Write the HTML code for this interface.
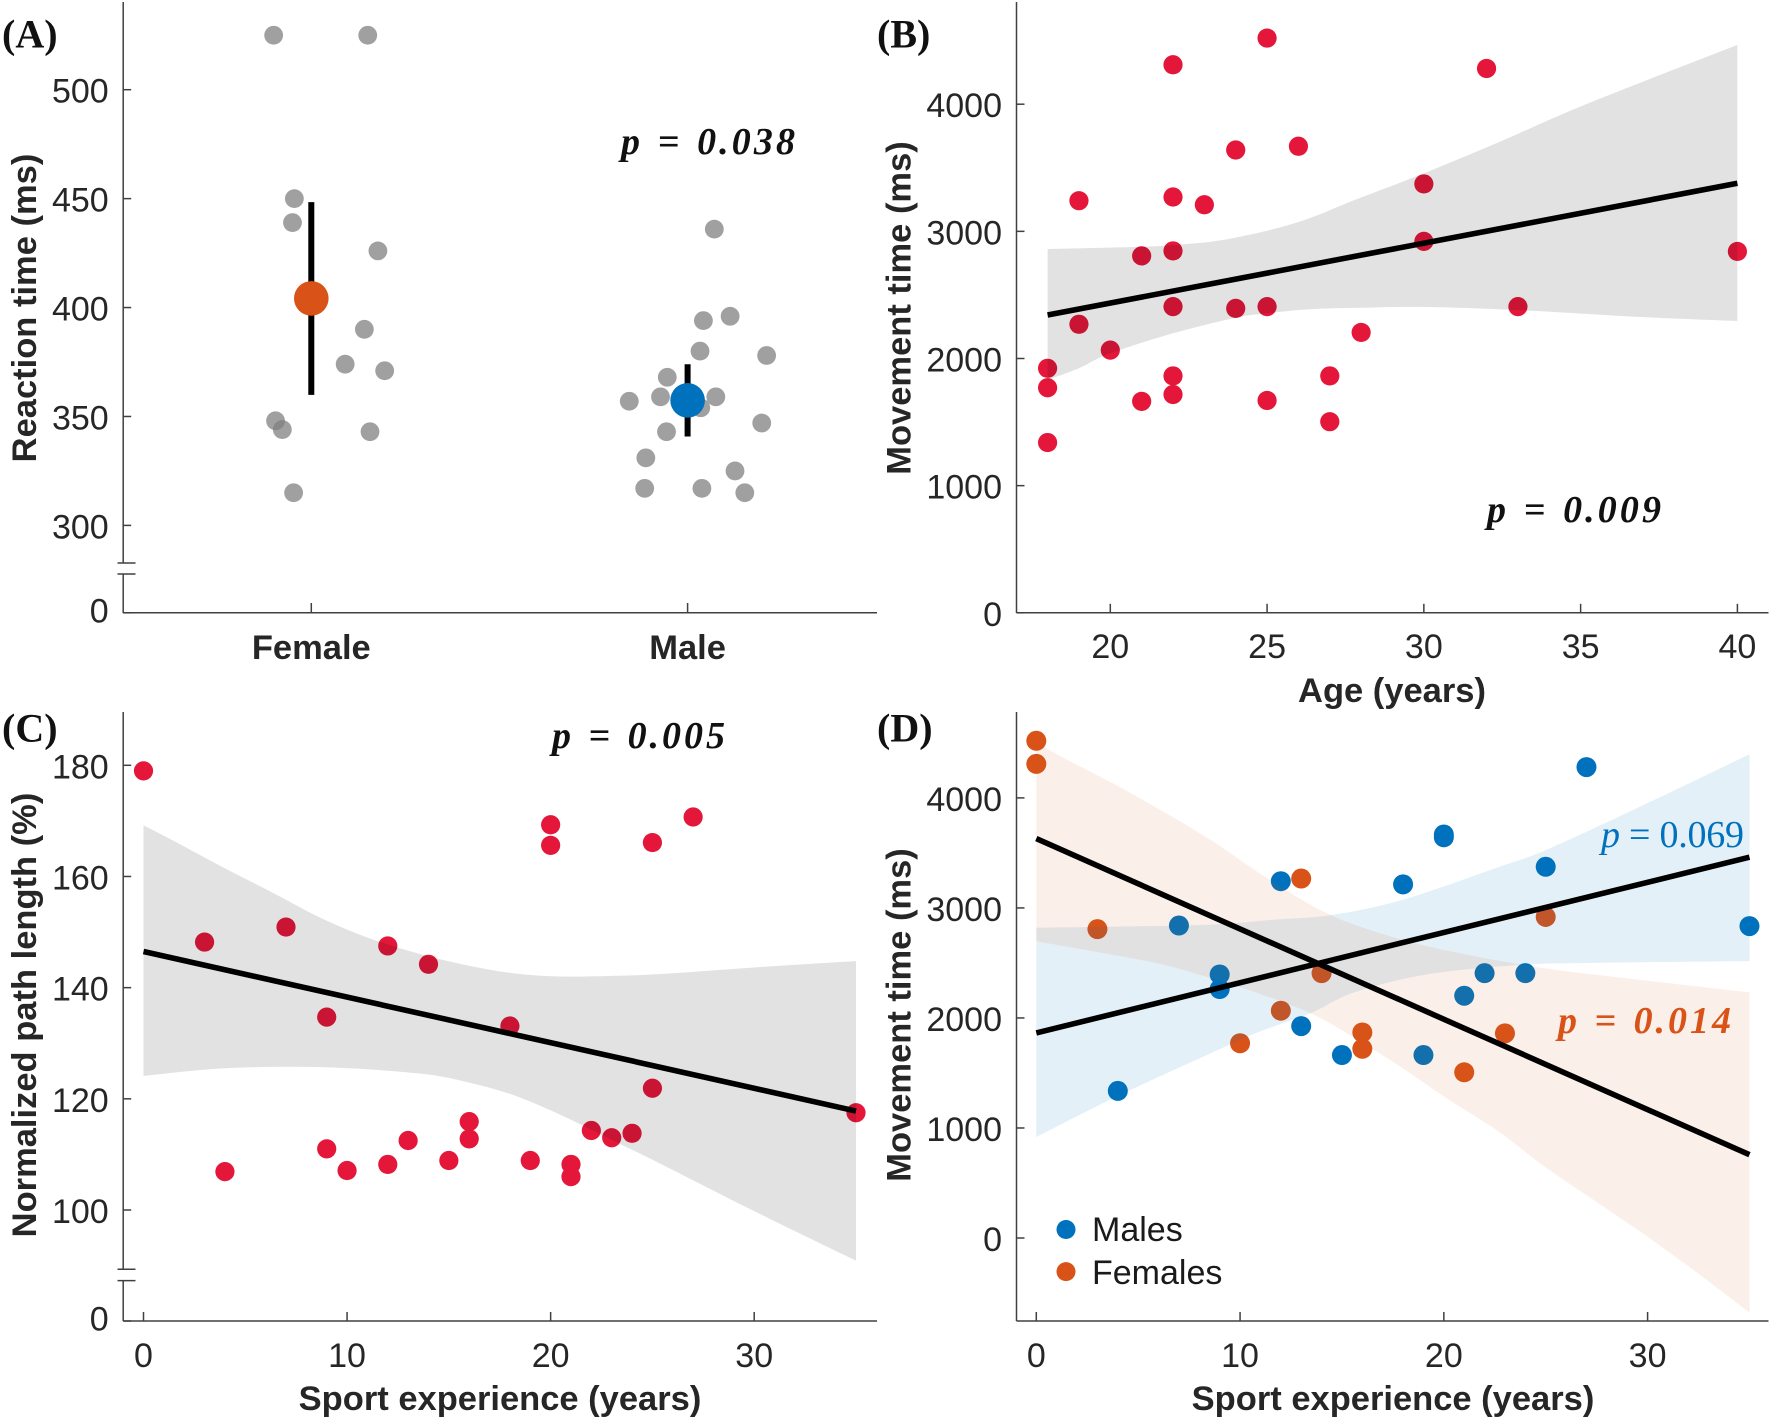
<!DOCTYPE html>
<html lang="en">
<head>
<meta charset="utf-8">
<title>Reaction and movement time panels</title>
<style>
html,body{margin:0;padding:0;background:#fff;}
svg{display:block;}
text{font-family:"Liberation Sans",sans-serif;fill:#262626;}
.tick{font-size:34px;}
.axis-title{font-size:34.5px;font-weight:700;}
.panel{font-family:"Liberation Serif",serif;font-size:40px;font-weight:700;fill:#111;}
.pv{font-family:"Liberation Serif",serif;font-size:38px;font-style:italic;font-weight:700;word-spacing:2px;fill:#111;}
.ax{stroke:#404040;stroke-width:1.5;fill:none;}
</style>
</head>
<body>
<svg id="fig" xmlns="http://www.w3.org/2000/svg" width="1772" height="1419" viewBox="0 0 1772 1419">
  <rect x="0" y="0" width="1772" height="1419" fill="#fff"/>

  <g id="panelA">
    <g id="aMarks"></g>
    <g id="aAxis">
      <line class="ax" x1="123.2" y1="2" x2="123.2" y2="563"/>
      <line class="ax" x1="123.2" y1="574" x2="123.2" y2="613"/>
      <line class="ax" x1="117.5" y1="563" x2="135.5" y2="563"/>
      <line class="ax" x1="117.5" y1="574" x2="135.5" y2="574"/>
      <line class="ax" x1="123.2" y1="612.8" x2="877" y2="612.8"/>
    </g>
    <text class="panel" x="2" y="47.5">(A)</text>
    <text class="axis-title" text-anchor="middle" transform="translate(36,308) rotate(-90)">Reaction time (ms)</text>
    <text class="pv" x="621" y="154" textLength="174">p = 0.038</text>
  </g>

  <g id="panelB">
    <g id="bMarks"></g>
    <g id="bAxis">
      <line class="ax" x1="1016.5" y1="2" x2="1016.5" y2="613"/>
      <line class="ax" x1="1016.5" y1="612.8" x2="1768.5" y2="612.8"/>
    </g>
    <text class="panel" x="877" y="47.5">(B)</text>
    <text class="axis-title" text-anchor="middle" transform="translate(910.5,308) rotate(-90)">Movement time (ms)</text>
    <text class="axis-title" text-anchor="middle" x="1392" y="702">Age (years)</text>
    <text class="pv" x="1487" y="522" textLength="174">p = 0.009</text>
  </g>

  <g id="panelC">
    <g id="cMarks"></g>
    <g id="cAxis">
      <line class="ax" x1="123.2" y1="712" x2="123.2" y2="1269.3"/>
      <line class="ax" x1="123.2" y1="1280.6" x2="123.2" y2="1321"/>
      <line class="ax" x1="117.5" y1="1269.3" x2="135.5" y2="1269.3"/>
      <line class="ax" x1="117.5" y1="1280.6" x2="135.5" y2="1280.6"/>
      <line class="ax" x1="123.2" y1="1321" x2="877" y2="1321"/>
    </g>
    <text class="panel" x="2" y="741.5">(C)</text>
    <text class="axis-title" text-anchor="middle" transform="translate(36,1015) rotate(-90)">Normalized path length (%)</text>
    <text class="axis-title" text-anchor="middle" x="500" y="1410">Sport experience (years)</text>
    <text class="pv" x="552" y="748" textLength="173">p = 0.005</text>
  </g>

  <g id="panelD">
    <g id="dMarks"></g>
    <g id="dAxis">
      <line class="ax" x1="1016.5" y1="712" x2="1016.5" y2="1321"/>
      <line class="ax" x1="1016.5" y1="1321" x2="1768.5" y2="1321"/>
    </g>
    <text class="panel" x="877" y="741.5">(D)</text>
    <text class="axis-title" text-anchor="middle" transform="translate(910.5,1015) rotate(-90)">Movement time (ms)</text>
    <text class="axis-title" text-anchor="middle" x="1393" y="1410">Sport experience (years)</text>
    <text class="pv" x="1601" y="847" textLength="143" style="fill:#0072BD;font-weight:400;font-style:normal;word-spacing:0;"><tspan font-style="italic">p</tspan> = 0.069</text>
    <text class="pv" x="1558" y="1033" textLength="173" style="fill:#D95319;">p = 0.014</text>
    <g>
      <circle cx="1066" cy="1229.5" r="9.5" fill="#0072BD"/>
      <text class="tick" x="1092" y="1241" style="fill:#1a1a1a;">Males</text>
      <circle cx="1066" cy="1271.6" r="9.5" fill="#D95319"/>
      <text class="tick" x="1092" y="1284" style="fill:#1a1a1a;">Females</text>
    </g>
  </g>
</svg>

<script>
// ---------- Panel A data ----------
const aCategories = ['Female', 'Male'];
const aYTicks = [0, 300, 350, 400, 450, 500];
const femaleRT = [525, 525, 450, 439, 426, 390, 374, 371, 348, 344, 343, 315];
const femaleJitter = [-0.10, 0.15, -0.045, -0.05, 0.177, 0.141, 0.09, 0.195, -0.095, -0.077, 0.156, -0.047];
const maleRT = [436, 396, 394, 380, 378, 368, 359, 359, 357, 354, 347, 343, 331, 325, 317, 317, 315];
const maleJitter = [0.071, 0.113, 0.042, 0.033, 0.21, -0.054, -0.072, 0.075, -0.155, 0.035, 0.197, -0.056, -0.111, 0.126, -0.114, 0.038, 0.152];
const aMeans = [404.2, 357.4];
const aErrLow = [359.9, 340.8];
const aErrHigh = [448.4, 374];

// ---------- Panel B data ----------
const bXTicks = [20, 25, 30, 35, 40];
const bYTicks = [0, 1000, 2000, 3000, 4000];
const bAge = [18, 18, 18, 19, 19, 20, 21, 21, 22, 22, 22, 22, 22, 22, 23, 24, 24, 25, 25, 25, 26, 27, 27, 28, 30, 30, 32, 33, 40];
const bMT = [1923, 1770, 1339, 3241, 2269, 2066, 2807, 1663, 4310, 3270, 2846, 2408, 1863, 1717, 3209, 3640, 2394, 4520, 2408, 1670, 3669, 1863, 1503, 2205, 3373, 2921, 4281, 2408, 2842];
const bLineX = [18, 40];
const bLineY = [2342, 3378];
const bUpperX = [18, 21, 22, 23.37, 25, 26.34, 27.8, 30, 32.3, 35.25, 40];
const bUpperY = [2861, 2879, 2893, 2924, 3005, 3102, 3247, 3456, 3692, 4007, 4466];
const bLowerX = [18, 19, 20, 22, 24, 25, 26.34, 28, 30, 33, 36.73, 40];
const bLowerY = [1831, 1923, 2041, 2198, 2321, 2355, 2387, 2399, 2405, 2381, 2329, 2295];

// ---------- Panel C data ----------
const cXTicks = [0, 10, 20, 30];
const cYTicks = [0, 100, 120, 140, 160, 180];
const cExp = [0, 3, 4, 7, 9, 9, 10, 12, 12, 13, 14, 15, 16, 16, 18, 19, 20, 20, 21, 21, 22, 23, 24, 25, 25, 27, 35];
const cPath = [179, 148.2, 106.9, 150.9, 134.7, 111, 107.1, 147.5, 108.2, 112.5, 144.2, 108.9, 115.9, 112.8, 133.1, 108.9, 169.3, 165.6, 108.2, 106, 114.3, 113, 113.8, 166.1, 121.9, 170.7, 117.5];
const cLineX = [0, 35];
const cLineY = [146.5, 117.8];
const cUpperX = [0, 1.69, 4.04, 6.39, 8.74, 11.09, 13.44, 15.79, 18.14, 20.49, 22.84, 25.19, 29.89, 35];
const cUpperY = [169.2, 166, 161.4, 157, 152.5, 148.9, 146.2, 144.1, 142.6, 142, 142.1, 142.4, 143.6, 144.8];
const cLowerX = [0, 4.04, 8.74, 13.44, 15.79, 18.14, 20.49, 22.84, 25.19, 29.89, 35];
const cLowerY = [124.1, 125.5, 125.7, 124.6, 123.1, 120.7, 117.1, 112.9, 108.7, 100, 90.9];

// ---------- Panel D data ----------
const dXTicks = [0, 10, 20, 30];
const dYTicks = [0, 1000, 2000, 3000, 4000];
const dMaleExp = [4, 7, 9, 9, 12, 13, 15, 18, 19, 20, 20, 21, 22, 24, 25, 27, 35];
const dMaleMT = [1337, 2840, 2395, 2263, 3243, 1926, 1663, 3214, 1663, 3642, 3667, 2202, 2407, 2407, 3374, 4280, 2835];
const dFemaleExp = [0, 0, 3, 10, 12, 13, 14, 16, 16, 21, 23, 25];
const dFemaleMT = [4519, 4309, 2807, 1770, 2066, 3267, 2407, 1868, 1720, 1506, 1860, 2918];
const dMaleLineX = [0, 35];
const dMaleLineY = [1864, 3461];
const dFemaleLineX = [0, 35];
const dFemaleLineY = [3630, 757];
const dMaleUpperX = [0, 3.9, 8.6, 11.64, 14.46, 17.98, 22.67, 25, 29.7, 35];
const dMaleUpperY = [2820, 2830, 2848, 2893, 2935, 3074, 3370, 3526, 3926, 4396];
const dMaleLowerX = [0, 3.9, 8.6, 10.94, 13.5, 15.6, 19.15, 23.85, 27.37, 35];
const dMaleLowerY = [917, 1282, 1682, 1874, 2047, 2232, 2395, 2483, 2500, 2517];
const dFemaleUpperX = [0, 1.55, 3.9, 6.24, 8.6, 10.94, 13.29, 14.46, 15.6, 17.98, 20.33, 23.85, 27.37, 35];
const dFemaleUpperY = [4500, 4344, 4118, 3875, 3613, 3317, 3046, 2935, 2848, 2709, 2605, 2483, 2395, 2232];
const dFemaleLowerX = [0, 3.9, 6.24, 8.6, 10.94, 13.52, 15.6, 17.98, 20.33, 22.68, 25.02, 27.37, 29.72, 32.07, 35];
const dFemaleLowerY = [2698, 2569, 2483, 2361, 2222, 2037, 1822, 1543, 1247, 969, 638, 343, 47, -266, -677];

// ---------- Axis functions ----------
function linear(d0, r0, d1, r1) {
  return function (v) { return r0 + (v - d0) * (r1 - r0) / (d1 - d0); };
}
const aX = linear(0, 311.3, 1, 687.6);
const aYRaw = linear(300, 525.4, 500, 89.7);
function aY(v) { return v === 0 ? 612.8 : aYRaw(v); }
const bX = linear(20, 1110.3, 40, 1737.4);
const bY = linear(0, 612.8, 4000, 104.2);
const cX = linear(0, 143.5, 30, 754.2);
const cYRaw = linear(100, 1210, 180, 765.3);
function cY(v) { return v === 0 ? 1321 : cYRaw(v); }
const dX = linear(0, 1036.3, 30, 1647.6);
const dY = linear(0, 1238, 4000, 797.9);

// ---------- Drawing helpers ----------
const NS = 'http://www.w3.org/2000/svg';
function make(tag, parent, attrs) {
  const el = document.createElementNS(NS, tag);
  Object.keys(attrs).forEach(function (k) { el.setAttribute(k, attrs[k]); });
  parent.appendChild(el);
  return el;
}
function drawDots(parent, xs, ys, xf, yf, fill, opacity, r) {
  xs.forEach(function (x, i) {
    const el = make('circle', parent, { cx: xf(x), cy: yf(ys[i]), r: r, fill: fill, 'fill-opacity': opacity });
    
    
  });
}
// Catmull-Rom smoothing through the read-off boundary points
function smoothSegs(p) {
  let s = '';
  for (let i = 0; i < p.length - 1; i++) {
    const p0 = p[Math.max(i - 1, 0)], p1 = p[i], p2 = p[i + 1], p3 = p[Math.min(i + 2, p.length - 1)];
    const c1x = p1[0] + (p2[0] - p0[0]) / 6, c1y = p1[1] + (p2[1] - p0[1]) / 6;
    const c2x = p2[0] - (p3[0] - p1[0]) / 6, c2y = p2[1] - (p3[1] - p1[1]) / 6;
    s += 'C' + c1x.toFixed(1) + ' ' + c1y.toFixed(1) + ' ' + c2x.toFixed(1) + ' ' + c2y.toFixed(1) + ' ' + p2[0].toFixed(1) + ' ' + p2[1].toFixed(1);
  }
  return s;
}
function drawBand(parent, ux, uy, lx, ly, xf, yf, fill, opacity) {
  const up = ux.map(function (x, i) { return [xf(x), yf(uy[i])]; });
  const low = lx.map(function (x, i) { return [xf(x), yf(ly[i])]; }).reverse();
  const d = 'M' + up[0][0].toFixed(1) + ' ' + up[0][1].toFixed(1) + smoothSegs(up) +
    'L' + low[0][0].toFixed(1) + ' ' + low[0][1].toFixed(1) + smoothSegs(low) + 'Z';
  const el = make('path', parent, { d: d, fill: fill, 'fill-opacity': opacity });
  
  
}
function drawLine(parent, xs, ys, xf, yf) {
  const el = make('line', parent, { x1: xf(xs[0]), y1: yf(ys[0]), x2: xf(xs[1]), y2: yf(ys[1]), stroke: '#000', 'stroke-width': 5.6 });
  
  
}
function drawYTicks(parent, ticks, yf, axisX, zeroShift) {
  ticks.forEach(function (t) {
    const y = yf(t);
    const mark = make('line', parent, { x1: axisX, y1: y, x2: axisX + 8, y2: y, class: 'ax' });
    
    
    const ly = y + 13 - (t === 0 ? zeroShift : 0);
    const label = make('text', parent, { x: axisX - 14.5, y: ly, 'text-anchor': 'end', class: 'tick' });
    label.textContent = String(t);
    
    
  });
}
function drawXTicks(parent, ticks, xf, axisY, labelY) {
  ticks.forEach(function (t) {
    const x = xf(t);
    const mark = make('line', parent, { x1: x, y1: axisY, x2: x, y2: axisY - 9, class: 'ax' });
    
    
    const label = make('text', parent, { x: x, y: labelY, 'text-anchor': 'middle', class: 'tick' });
    label.textContent = String(t);
    
    
  });
}

// ---------- Panel A ----------
(function () {
  const g = document.getElementById('aMarks');
  const ax = document.getElementById('aAxis');
  drawDots(g, femaleJitter, femaleRT, function (o) { return aX(0 + o); }, aY, '#808080', 0.75, 9.4);
  drawDots(g, maleJitter, maleRT, function (o) { return aX(1 + o); }, aY, '#808080', 0.75, 9.4);
  const colors = ['#D95319', '#0072BD'];
  aCategories.forEach(function (name, i) {
    const err = make('line', g, { x1: aX(i), y1: aY(aErrHigh[i]), x2: aX(i), y2: aY(aErrLow[i]), stroke: '#000', 'stroke-width': 6 });
    
    
    const mean = make('circle', g, { cx: aX(i), cy: aY(aMeans[i]), r: 17.3, fill: colors[i] });
    
    
    const mark = make('line', ax, { x1: aX(i), y1: 612.8, x2: aX(i), y2: 603, class: 'ax' });
    
    
    const label = make('text', ax, { x: aX(i), y: 659, 'text-anchor': 'middle', class: 'axis-title' });
    label.textContent = name;
    
    
  });
  drawYTicks(ax, aYTicks, aY, 123.2, 3.4);
})();

// ---------- Panel B ----------
(function () {
  const g = document.getElementById('bMarks');
  const ax = document.getElementById('bAxis');
  drawDots(g, bAge, bMT, bX, bY, '#e4173b', 1, 9.6);
  drawBand(g, bUpperX, bUpperY, bLowerX, bLowerY, bX, bY, '#000', 0.115);
  drawLine(g, bLineX, bLineY, bX, bY);
  drawYTicks(ax, bYTicks, bY, 1016.5, 0);
  drawXTicks(ax, bXTicks, bX, 612.8, 658);
})();

// ---------- Panel C ----------
(function () {
  const g = document.getElementById('cMarks');
  const ax = document.getElementById('cAxis');
  drawDots(g, cExp, cPath, cX, cY, '#e4173b', 1, 9.6);
  drawBand(g, cUpperX, cUpperY, cLowerX, cLowerY, cX, cY, '#000', 0.115);
  drawLine(g, cLineX, cLineY, cX, cY);
  drawYTicks(ax, cYTicks, cY, 123.2, 3.4);
  drawXTicks(ax, cXTicks, cX, 1321, 1367);
})();

// ---------- Panel D ----------
(function () {
  const g = document.getElementById('dMarks');
  const ax = document.getElementById('dAxis');
  drawDots(g, dMaleExp, dMaleMT, dX, dY, '#0072BD', 1, 10);
  drawDots(g, dFemaleExp, dFemaleMT, dX, dY, '#D95319', 1, 10);
  drawBand(g, dMaleUpperX, dMaleUpperY, dMaleLowerX, dMaleLowerY, dX, dY, '#0072BD', 0.11);
  drawBand(g, dFemaleUpperX, dFemaleUpperY, dFemaleLowerX, dFemaleLowerY, dX, dY, '#D95319', 0.095);
  drawLine(g, dMaleLineX, dMaleLineY, dX, dY);
  drawLine(g, dFemaleLineX, dFemaleLineY, dX, dY);
  drawYTicks(ax, dYTicks, dY, 1016.5, 0);
  drawXTicks(ax, dXTicks, dX, 1321, 1367);
})();
</script>
</body>
</html>
